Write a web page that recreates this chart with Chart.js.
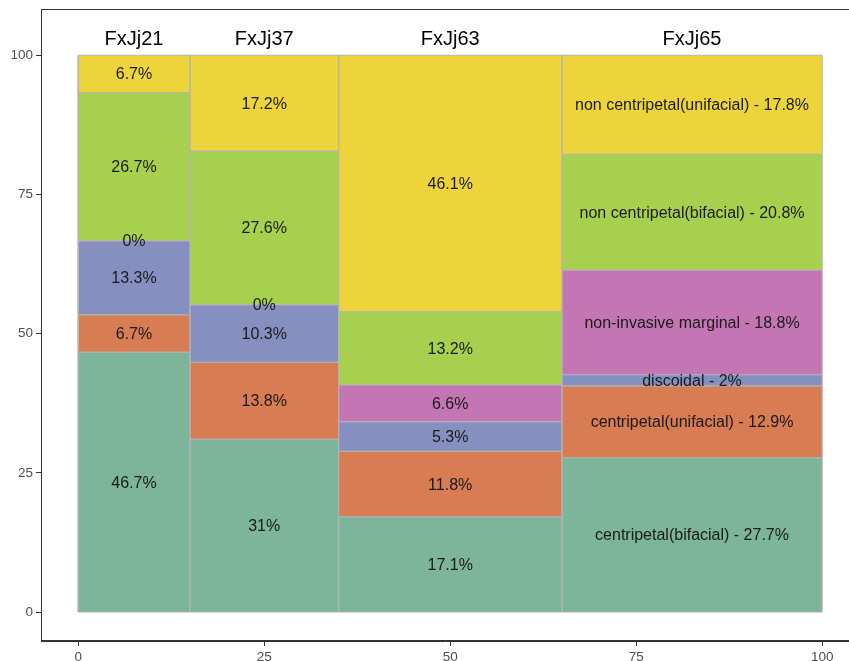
<!DOCTYPE html>
<html>
<head>
<meta charset="utf-8">
<script src="https://cdn.jsdelivr.net/npm/chart.js@4/dist/chart.umd.min.js"></script>
<style>
  html, body { margin: 0; padding: 0; background: #fff; }
  #wrap { width: 849px; height: 661px; position: relative; }
</style>
</head>
<body>
<div id="wrap"><canvas id="mosaic"></canvas></div>
<script>
// sites and their share of the x axis
const sites = ['FxJj21', 'FxJj37', 'FxJj63', 'FxJj65'];
const siteShare = [15, 20, 30, 35];

// flaking types, bottom to top
const types = [
    'centripetal(bifacial)',
    'centripetal(unifacial)',
    'discoidal',
    'non-invasive marginal',
    'non centripetal(bifacial)',
    'non centripetal(unifacial)'
];

// percent per site, one array per type
const centripetalBifacial = [46.7, 31, 17.1, 27.7];
const centripetalUnifacial = [6.7, 13.8, 11.8, 12.9];
const discoidal = [13.3, 10.3, 5.3, 2];
const nonInvasiveMarginal = [0, 0, 6.6, 18.8];
const nonCentripetalBifacial = [26.7, 27.6, 13.2, 20.8];
const nonCentripetalUnifacial = [6.7, 17.2, 46.1, 17.8];

const xTicks = [0, 25, 50, 75, 100];
const yTicks = [0, 25, 50, 75, 100];

const colors = ['#7cb599', '#d87c54', '#8690c0', '#c476b4', '#a8d04f', '#ecd43a'];
const values = [centripetalBifacial, centripetalUnifacial, discoidal,
    nonInvasiveMarginal, nonCentripetalBifacial, nonCentripetalUnifacial];

// build one closed rectangle per cell
const datasets = [];
const cells = [];
let x0 = 0;
sites.forEach((site, i) => {
    const x1 = x0 + siteShare[i];
    const total = values.reduce((s, arr) => s + arr[i], 0);
    let y0 = 0;
    types.forEach((t, j) => {
        const y1 = y0 + values[j][i] / total * 100;
        datasets.push({
            data: [{x: x0, y: y0}, {x: x1, y: y0}, {x: x1, y: y1}, {x: x0, y: y1}, {x: x0, y: y0}],
            borderColor: '#b4b4b4',
            borderWidth: 1,
            backgroundColor: colors[j],
            fill: 'shape',
            pointRadius: 0,
            tension: 0
        });
        const pct = values[j][i] + '%';
        cells.push({
            x: (x0 + x1) / 2,
            y: (y0 + y1) / 2,
            text: site === 'FxJj65' ? t + ' - ' + pct : pct
        });
        y0 = y1;
    });
    cells.push({x: (x0 + x1) / 2, y: 103, text: site, header: true});
    x0 = x1;
});

const labelPlugin = {
    id: 'cellLabels',
    afterDatasetsDraw(chart) {
        const {ctx, scales: {x, y}, chartArea: a} = chart;
        ctx.save();
        ctx.textAlign = 'center';
        ctx.textBaseline = 'middle';
        cells.forEach(c => {
            ctx.fillStyle = c.header ? '#000' : '#1a1a1a';
            ctx.font = c.header ? '20px "Liberation Sans", Arial, sans-serif'
                                : '16px "Liberation Sans", Arial, sans-serif';
            ctx.fillText(c.text, x.getPixelForValue(c.x), y.getPixelForValue(c.y) + 1);
        });
        // panel border
        ctx.strokeStyle = '#333';
        ctx.lineWidth = 1;
        ctx.strokeRect(a.left + 0.5, a.top + 0.5, a.right - a.left, a.bottom - a.top - 1);
        ctx.restore();
    }
};

const tickFont = {family: '"Liberation Sans", Arial, sans-serif', size: 13.5};

new Chart(document.getElementById('mosaic'), {
    type: 'line',
    data: {datasets: datasets},
    options: {
        responsive: true,
        maintainAspectRatio: false,
        animation: false,
        layout: {padding: {top: 9, right: 0, left: 0, bottom: 0}},
        plugins: {legend: {display: false}, tooltip: {enabled: false}},
        scales: {
            x: {
                type: 'linear',
                min: -5,
                max: 103.6,
                afterBuildTicks: s => { s.ticks = xTicks.map(v => ({value: v})); },
                afterFit: s => { s.height = 20; s.paddingLeft = 0; s.paddingRight = 0; },
                grid: {drawOnChartArea: false, drawTicks: true, tickLength: 5, color: '#333'},
                border: {display: true, color: '#333'},
                ticks: {color: '#4d4d4d', font: tickFont, padding: 3, maxRotation: 0}
            },
            y: {
                type: 'linear',
                min: -5.2,
                max: 108.3,
                afterBuildTicks: s => { s.ticks = yTicks.map(v => ({value: v})); },
                afterFit: s => { s.width = 41; s.paddingTop = 0; s.paddingBottom = 0; },
                grid: {drawOnChartArea: false, drawTicks: true, tickLength: 5, color: '#333'},
                border: {display: true, color: '#333'},
                ticks: {color: '#4d4d4d', font: tickFont, padding: 3}
            }
        }
    },
    plugins: [labelPlugin]
});
</script>
</body>
</html>
